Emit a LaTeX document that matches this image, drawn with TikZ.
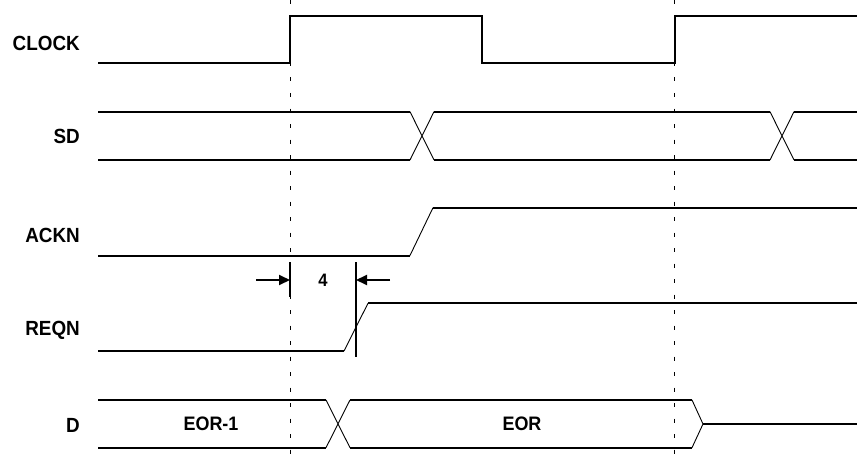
\documentclass[tikz,border=0pt]{standalone}
\usepackage{fontspec}
\newfontfamily\labfont{Liberation Sans}[FakeStretch=0.92]
\usetikzlibrary{arrows.meta}
\begin{document}
\begin{tikzpicture}[x=1pt,y=-1pt,
  sig/.style={line width=2pt},
  edge/.style={line width=0.9pt},
  guide/.style={line width=0.9pt,dash pattern=on 4pt off 11.5pt},
  siglabel/.style={anchor=east,inner sep=0pt,font=\labfont\bfseries\fontsize{20.5}{24}\selectfont},
  datalabel/.style={inner sep=0pt,font=\labfont\bfseries\fontsize{19.5}{23}\selectfont},
  dimlabel/.style={inner sep=0pt,font=\labfont\bfseries\fontsize{18}{21}\selectfont},
  dimarrow/.style={line width=2pt,-{Triangle[length=11pt,width=10pt]}}]
\useasboundingbox (0,0) rectangle (857,460);
% labels
\node[siglabel] (lclk) at (80,43) {CLOCK};
\node[siglabel] (lsd) at (80,136.5) {SD};
\node[siglabel] (lack) at (80,235.5) {ACKN};
\node[siglabel] (lreq) at (80,330.5) {REQN};
\node[siglabel] (ld) at (80,425) {D};
% guides
\coordinate (g1t) at (290,0); \coordinate (g1b) at (290,460);
\coordinate (g2t) at (674.5,0); \coordinate (g2b) at (674.5,460);
\draw[guide] (g1t) -- (g1b);
\draw[guide] (g2t) -- (g2b);
% CLOCK
\draw[sig,line join=miter] (98,63.3) -- (290,63.3) -- (290,15.7) -- (482,15.7) -- (482,63.3) -- (674.5,63.3) -- (674.5,15.7) -- (857,15.7);
% SD
\draw[sig] (98,111.7) -- (410,111.7) (434,111.7) -- (770,111.7) (794,111.7) -- (857,111.7);
\draw[sig] (98,160) -- (410,160) (434,160) -- (770,160) (794,160) -- (857,160);
\draw[edge] (410,111.7) -- (434,160) (410,160) -- (434,111.7);
\draw[edge] (770,111.7) -- (794,160) (770,160) -- (794,111.7);
% ACKN
\draw[sig] (98,255.5) -- (410,255.5);
\draw[edge] (410,255.5) -- (433,207.7);
\draw[sig] (433,207.7) -- (857,207.7);
% REQN
\draw[sig] (98,351) -- (344,351);
\draw[edge] (344,351) -- (368,303.3);
\draw[sig] (368,303.3) -- (857,303.3);
% dimension
\coordinate (t1a) at (290,262); \coordinate (t1b) at (290,297);
\coordinate (t2a) at (356,262); \coordinate (t2b) at (356,357);
\draw[sig] (t1a) -- (t1b);
\draw[sig] (t2a) -- (t2b);
\coordinate (a1s) at (256,280); \coordinate (a1e) at (290,280);
\coordinate (a2s) at (390,280); \coordinate (a2e) at (356,280);
\draw[dimarrow] (a1s) -- (a1e);
\draw[dimarrow] (a2s) -- (a2e);
\node[dimlabel] (four) at (323,280) {4};
% D
\draw[sig] (98,400) -- (326,400) (350,400) -- (692,400);
\draw[sig] (98,447.7) -- (326,447.7) (350,447.7) -- (692,447.7);
\draw[edge] (326,400) -- (350,447.7) (326,447.7) -- (350,400);
\draw[edge] (692,400) -- (703,424) -- (692,447.7);
\draw[sig] (703,424) -- (857,424);
\node[datalabel] (eor1) at (211,424) {EOR-1};
\node[datalabel] (eor) at (522,424) {EOR};
\end{tikzpicture}
\end{document}
